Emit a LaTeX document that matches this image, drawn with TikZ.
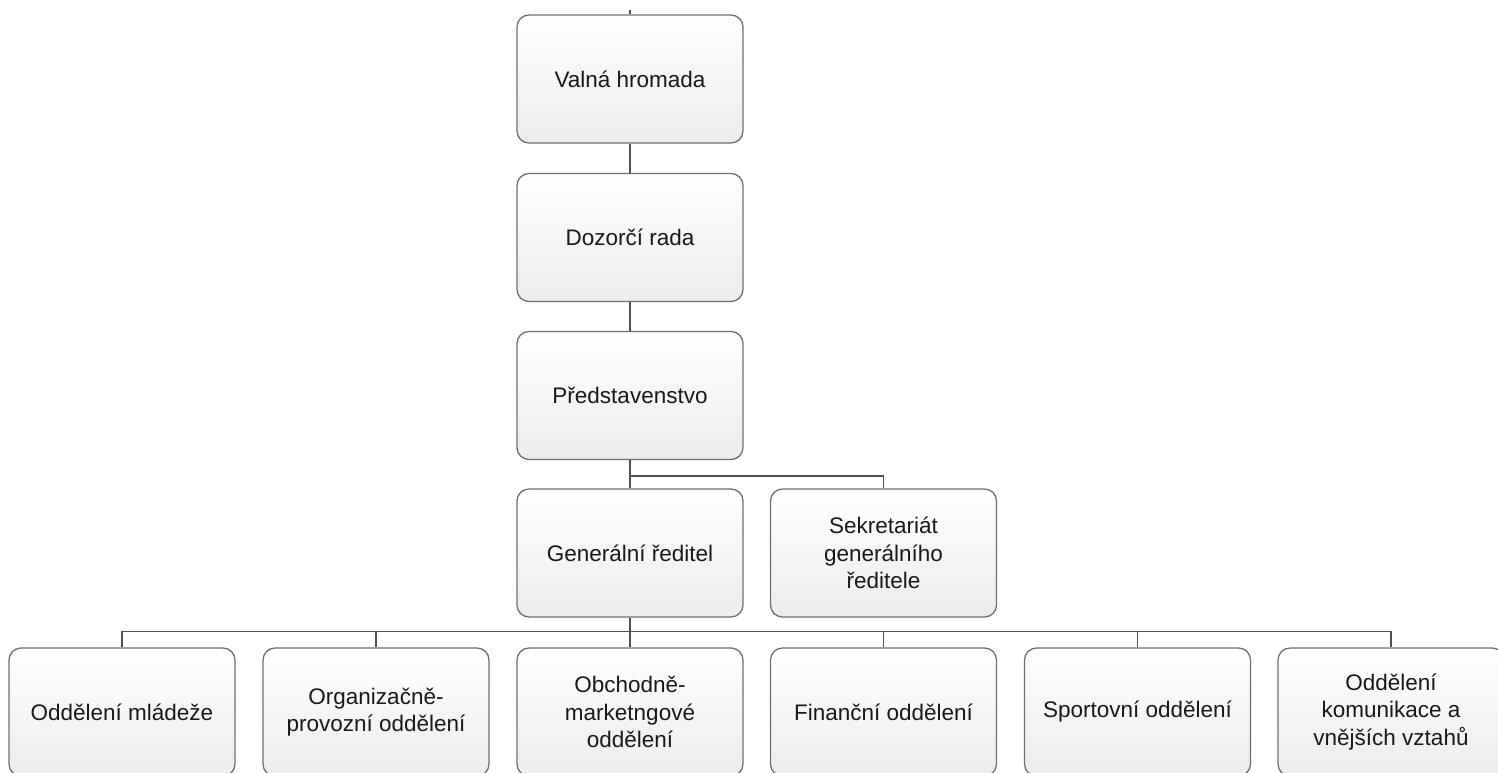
\documentclass[tikz,border=0pt]{standalone}
\usepackage{fontspec}
\setmainfont{Liberation Sans}
\definecolor{boxline}{RGB}{112,112,112}
\definecolor{boxbottom}{RGB}{236,236,236}
\definecolor{wire}{RGB}{80,80,80}
\begin{document}
\begin{tikzpicture}[x=1pt,y=-1pt,
  unit/.style={rectangle, rounded corners=12pt, draw=boxline, line width=1.3pt,
    top color=white, bottom color=boxbottom, shading angle=0,
    minimum width=226pt, minimum height=128pt, inner sep=0pt,
    align=center, font=\fontsize{22.5}{27.5}\selectfont, text=black!90},
  link/.style={draw=wire, line width=1.4pt}]
\clip (0,0) rectangle (1498,773);
\useasboundingbox (0,0) rectangle (1498,773);

% board levels
\node[unit] (vh) at (630,79) {Valná hromada};
\node[unit] (dr) at (630,237.5) {Dozorčí rada};
\node[unit] (pr) at (630,395.5) {Představenstvo};
\node[unit] (gr) at (630,553) {Generální ředitel};
\node[unit] (sk) at (883.5,553) {Sekretariát\\generálního\\ředitele};

% departments
\node[unit] (d1) at (122,712) {Oddělení mládeže};
\node[unit] (d2) at (376,712) {Organizačně-\\provozní oddělení};
\node[unit] (d3) at (630,712) {Obchodně-\\marketngové\\oddělení};
\node[unit] (d4) at (883.5,712) {Finanční oddělení};
\node[unit] (d5) at (1137.5,712) {Sportovní oddělení};
\node[unit] (d6) at (1391,712) {Oddělení\\komunikace a\\vnějších vztahů};

\coordinate (top) at (630,10);
\draw[link] (top) -- (vh.north);
\draw[link] (vh.south) -- (dr.north);
\draw[link] (dr.south) -- (pr.north);
\draw[link] (pr.south) -- (gr.north);
\draw[link] (pr.south) ++(0,16) -| (sk.north);
\draw[link] (gr.south) -- (d3.north);
\draw[link] (d1.north) -- ++(0,-16) -| (d6.north);
\foreach \d in {d2,d4,d5}
  \draw[link] (\d.north) -- ++(0,-16);
\end{tikzpicture}
\end{document}
